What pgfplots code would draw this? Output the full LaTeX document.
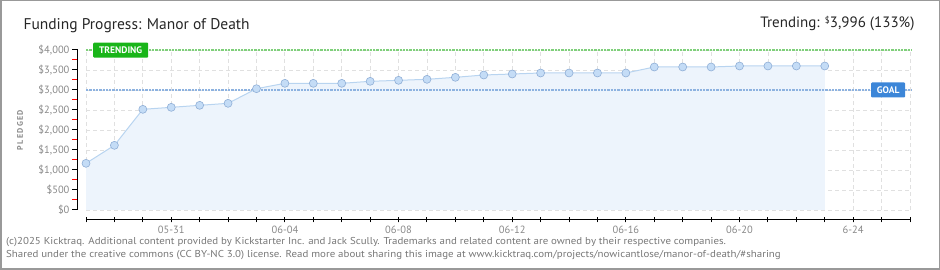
\documentclass[border=0pt]{standalone}
\usepackage{fontspec}
\setmainfont{PT Sans}
\usepackage{pgfplots}
\pgfplotsset{compat=1.18}
\definecolor{gridc}{HTML}{E0E0E0}
\definecolor{areac}{HTML}{EDF4FC}
\definecolor{linec}{HTML}{B8D4F0}
\definecolor{ptfill}{HTML}{C4DCF6}
\definecolor{ptdraw}{HTML}{8FAED6}
\definecolor{trendc}{HTML}{7FD07A}
\definecolor{trendlab}{HTML}{19B519}
\definecolor{goalc}{HTML}{8DB2E0}
\definecolor{goallab}{HTML}{3C86D8}
\definecolor{labc}{HTML}{888888}
\definecolor{footc}{HTML}{777777}
\begin{document}
\begin{tikzpicture}[x=1pt,y=1pt]
\useasboundingbox (0,0) rectangle (940,270);
\draw[color=gray!80, line width=1.5pt] (0.75,0.75) rectangle (939.25,269.25);
\begin{axis}[
  at={(86pt,60pt)}, anchor=origin,
  scale only axis, width=824pt, height=160pt,
  xmin=0, xmax=29, ymin=0, ymax=4000,
  clip=false,
  axis x line=bottom, axis y line=left,
  axis x line shift=10pt, axis y line shift=9pt,
  axis line style={-, black, line width=1pt},
  xtick={3,7,11,15,19,23,27},
  xticklabels={05-31,06-04,06-08,06-12,06-16,06-20,6-24},
  minor xtick={0,...,29},
  ytick={0,500,...,4000},
  yticklabels={\$0,\$500,{\$1,000},{\$1,500},{\$2,000},{\$2,500},{\$3,000},{\$3,500},{\$4,000}},
  minor ytick={250,750,...,3750},
  tick align=center,
  major tick length=5pt, minor tick length=5pt,
  tick style={black, line width=1pt},
  y tick style={xshift=-2pt},
  minor y tick style={red, line width=1pt},
  xmajorgrids=true, xminorgrids=true, ymajorgrids=true,
  grid style={gridc, dashed, dash pattern=on 4pt off 3pt, line width=0.8pt},
  minor grid style={gridc, dash pattern=on 4pt off 3pt, line width=0.8pt},
  tick label style={font=\fontsize{10.5}{12}\selectfont, color=labc},
  yticklabel style={xshift=-1.5pt},
]
\addplot[fill=areac, draw=none] coordinates {
(0,1167)(1,1617)(2,2517)(3,2567)(4,2617)(5,2667)(6,3033)(7,3167)(8,3167)(9,3167)
(10,3217)(11,3242)(12,3267)(13,3317)(14,3375)(15,3400)(16,3425)(17,3425)(18,3425)
(19,3425)(20,3575)(21,3575)(22,3575)(23,3600)(24,3600)(25,3600)(26,3600)} \closedcycle;
\addplot[trendc, line width=2pt, dash pattern=on 2.3pt off 1pt] coordinates {(0,3996)(29.05,3996)};
\addplot[goalc, line width=2pt, dash pattern=on 2.3pt off 1pt] coordinates {(0,3000)(29.05,3000)};
\addplot[linec, line width=1pt, mark=*, mark size=4pt,
  mark options={fill=ptfill, draw=ptdraw, line width=0.6pt}] coordinates {
(0,1167)(1,1617)(2,2517)(3,2567)(4,2617)(5,2667)(6,3033)(7,3167)(8,3167)(9,3167)
(10,3217)(11,3242)(12,3267)(13,3317)(14,3375)(15,3400)(16,3425)(17,3425)(18,3425)
(19,3425)(20,3575)(21,3575)(22,3575)(23,3600)(24,3600)(25,3600)(26,3600)};
\node[fill=trendlab, text=white, font=\fontsize{9.5}{10}\selectfont\bfseries,
  minimum width=55pt, minimum height=15pt, inner sep=1pt, rounded corners=1pt]
  at (axis cs:1.22,3996) {TRENDING};
\node[fill=goallab, text=white, font=\fontsize{9.5}{10}\selectfont\bfseries,
  minimum width=34pt, minimum height=15pt, inner sep=1pt, rounded corners=1pt]
  at (axis cs:28.23,3000) {GOAL};
\end{axis}
\node[anchor=base west, font=\fontsize{15.5}{18}\selectfont, color=black!85] at (20,240) {Funding Progress: Manor of Death};
\node[anchor=base east, font=\fontsize{15}{18}\selectfont, color=black!85] at (918,242.5)
  {Trending: \raisebox{4pt}{\fontsize{9}{10}\selectfont\$}3,996 (133\%)};
\node[rotate=90, font=\fontsize{8}{10}\selectfont\bfseries, color=labc] at (20,140) {P\,L\,E\,D\,G\,E\,D};
\node[anchor=base west, font=\fontsize{10}{11}\selectfont, color=footc, inner sep=0pt] at (6,25)
  {\scalebox{1.09}[1]{(c)2025 Kicktraq. Additional content provided by Kickstarter Inc. and Jack Scully. Trademarks and related content are owned by their respective companies.}};
\node[anchor=base west, font=\fontsize{10}{11}\selectfont, color=footc, inner sep=0pt] at (6,12)
  {\scalebox{1.09}[1]{Shared under the creative commons (CC BY-NC 3.0) license. Read more about sharing this image at www.kicktraq.com/projects/nowicantlose/manor-of-death/\#sharing}};
\end{tikzpicture}
\end{document}
